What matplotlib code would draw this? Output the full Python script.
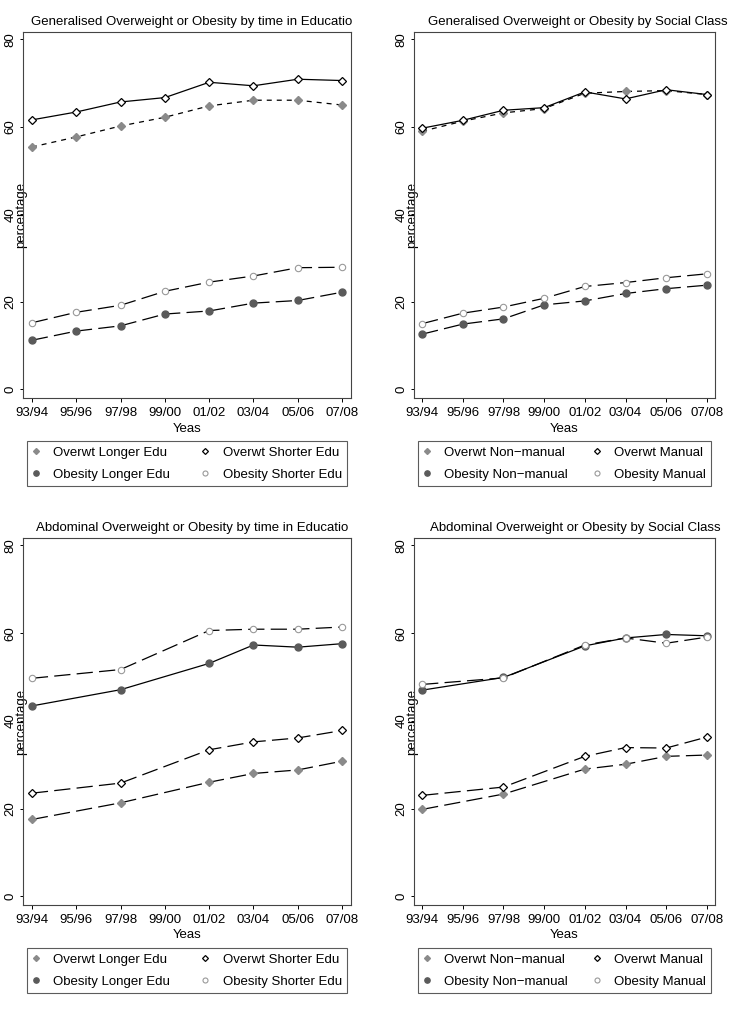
import matplotlib
matplotlib.use("Agg")
import matplotlib.pyplot as plt
from matplotlib.lines import Line2D

plt.rcParams['font.family'] = ['Liberation Sans', 'DejaVu Sans']

W, H = 729, 1015

years = ["93/94", "95/96", "97/98", "99/00", "01/02", "03/04", "05/06", "07/08"]
all_idx = list(range(8))
abd_idx = [0, 2, 4, 5, 6, 7]   # abdominal measures missing 95/96 and 99/00

# generalised overweight/obesity, by time in education
gen_ow_longer = [55.4, 57.7, 60.2, 62.2, 64.8, 66.1, 66.1, 65.0]
gen_ow_shorter = [61.6, 63.4, 65.7, 66.7, 70.2, 69.4, 70.9, 70.6]
gen_ob_longer = [11.2, 13.3, 14.5, 17.2, 17.9, 19.7, 20.3, 22.2]
gen_ob_shorter = [15.2, 17.6, 19.2, 22.4, 24.5, 25.9, 27.8, 27.9]

# generalised, by social class
gen_ow_nonman = [59.0, 61.3, 63.2, 64.2, 67.7, 68.1, 68.3, 67.4]
gen_ow_manual = [59.7, 61.5, 63.8, 64.4, 68.0, 66.4, 68.5, 67.4]
gen_ob_nonman = [12.6, 14.9, 16.1, 19.3, 20.2, 21.9, 23.0, 23.8]
gen_ob_manual = [15.0, 17.4, 18.8, 20.8, 23.5, 24.4, 25.5, 26.4]

# abdominal, by time in education
abd_ow_longer = [17.5, 21.3, 26.0, 28.0, 28.8, 30.8]
abd_ow_shorter = [23.5, 25.8, 33.4, 35.2, 36.1, 37.8]
abd_ob_longer = [43.4, 47.1, 53.1, 57.3, 56.8, 57.6]
abd_ob_shorter = [49.7, 51.7, 60.6, 60.9, 60.9, 61.4]

# abdominal, by social class
abd_ow_nonman = [19.8, 23.3, 29.0, 30.1, 31.9, 32.2]
abd_ow_manual = [23.0, 24.9, 31.9, 33.9, 33.8, 36.3]
abd_ob_nonman = [47.0, 49.9, 57.1, 58.9, 59.7, 59.4]
abd_ob_manual = [48.3, 49.8, 57.3, 58.9, 57.7, 59.1]

edu_labels = ["Overwt Longer Edu", "Overwt Shorter Edu",
              "Obesity Longer Edu", "Obesity Shorter Edu"]
cls_labels = ["Overwt Non\u2212manual", "Overwt Manual",
              "Obesity Non\u2212manual", "Obesity Manual"]

# marker styles: filled grey diamond, open diamond, filled dark circle, open circle
mk = [
    dict(marker='D', mfc='#8a8a8a', mec='#8a8a8a', ms=4.4),
    dict(marker='D', mfc='white', mec='black', ms=4.4, mew=0.9),
    dict(marker='o', mfc='#5a5a5a', mec='#5a5a5a', ms=5.0),
    dict(marker='o', mfc='white', mec='#999999', ms=4.6, mew=0.8),
]
leg_ms = [3.0, 3.0, 3.8, 3.6]
SOLID = '-'
SHORT = (0, (4, 4))
LONG = (0, (13, 5))


def px_axes(l, r, t, b):
    return fig.add_axes([l / W, 1 - b / H, (r - l) / W, (b - t) / H])


def panel(box, title, title_x, xs, series, styles, labels, leg_box):
    ax = px_axes(*box)
    for vals, st, ls in zip(series, mk, styles):
        ax.plot(xs, vals, color='black', lw=0.9, linestyle=ls, **st)
    ax.set_xlim(-0.2, 7.2)
    ax.set_ylim(-2, 81.7)
    ax.set_xticks(all_idx)
    ax.set_xticklabels(years, fontsize=9.5)
    ax.set_yticks([0, 20, 40, 60, 80])
    ax.set_yticklabels(["0", "20", "40", "60", "80"], fontsize=9.5,
                       rotation=90, va='center')
    ax.tick_params(axis='y', length=2.5, width=0.7, pad=2)
    ax.tick_params(axis='x', length=3, width=0.7, pad=3.5)
    for s in ax.spines.values():
        s.set_linewidth(0.8)
        s.set_color('#444444')
    ax.set_title(title, fontsize=9.5, pad=5, x=title_x)
    ax.set_xlabel("Yeas", fontsize=9.5, labelpad=2.5)
    ax.set_ylabel("percentage", fontsize=9.5, va='center')
    ax.yaxis.set_label_coords(-0.006, 0.5)

    # column-major fill so rows read: overweight pair, obesity pair
    order = [0, 2, 1, 3]
    handles = [Line2D([], [], linestyle='none', **dict(mk[i], ms=leg_ms[i]))
               for i in order]
    l, r, t, b = leg_box
    leg = fig.legend(handles, [labels[i] for i in order], ncol=2,
                     loc='upper left',
                     bbox_to_anchor=(l / W, 1 - b / H, (r - l) / W, (b - t) / H),
                     mode='expand', fontsize=9.5, frameon=True, fancybox=False,
                     edgecolor='#333333', borderaxespad=0, handlelength=0.6,
                     handletextpad=1.0, labelspacing=0.75, borderpad=0.4)
    leg.get_frame().set_linewidth(0.8)
    return ax


fig = plt.figure(figsize=(W / 100, H / 100), dpi=100)

panel((23, 351, 32, 398),
      "Generalised Overweight or Obesity by time in Educatio", 0.515, all_idx,
      [gen_ow_longer, gen_ow_shorter, gen_ob_longer, gen_ob_shorter],
      [SHORT, SOLID, LONG, LONG], edu_labels, (27, 347, 441, 488))

panel((414, 715, 32, 398),
      "Generalised Overweight or Obesity by Social Class", 0.545, all_idx,
      [gen_ow_nonman, gen_ow_manual, gen_ob_nonman, gen_ob_manual],
      [SHORT, SOLID, LONG, LONG], cls_labels, (418, 711, 441, 488))

panel((23, 351, 538, 905),
      "Abdominal Overweight or Obesity by time in Educatio", 0.515, abd_idx,
      [abd_ow_longer, abd_ow_shorter, abd_ob_longer, abd_ob_shorter],
      [LONG, LONG, SOLID, LONG], edu_labels, (27, 347, 948, 997))

panel((414, 715, 538, 905),
      "Abdominal Overweight or Obesity by Social Class", 0.535, abd_idx,
      [abd_ow_nonman, abd_ow_manual, abd_ob_nonman, abd_ob_manual],
      [LONG, LONG, SOLID, LONG], cls_labels, (418, 711, 948, 997))

fig.savefig("out.png", dpi=100, facecolor='white')
